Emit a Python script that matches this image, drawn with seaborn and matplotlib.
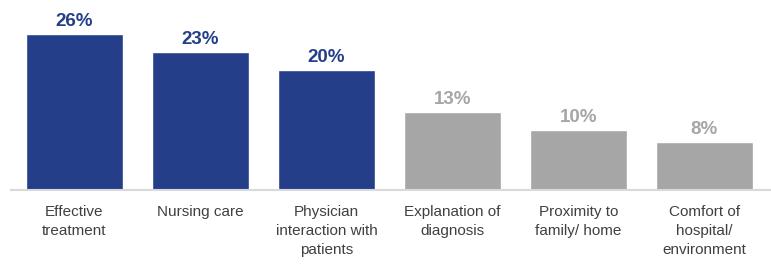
import seaborn as sns
import pandas as pd
import matplotlib.pyplot as plt

categories = [
    "Effective\ntreatment",
    "Nursing care",
    "Physician\ninteraction with\npatients",
    "Explanation of\ndiagnosis",
    "Proximity to\nfamily/ home",
    "Comfort of\nhospital/\nenvironment",
]
values = [26, 23, 20, 13, 10, 8]
highlight = [True, True, True, False, False, False]

BLUE = "#243E8A"
GREY = "#A6A6A6"

df = pd.DataFrame({"cat": categories, "value": values})
colors = [BLUE if h else GREY for h in highlight]

sns.set_theme(style="white")
plt.rcParams["font.family"] = ["Liberation Sans", "DejaVu Sans"]

fig = plt.figure(figsize=(7.71, 2.66), dpi=100)
ax = fig.add_axes([11 / 771, 76 / 266, 1 - 11 / 771, 180 / 266])

sns.barplot(data=df, x="cat", y="value", hue="cat", palette=colors,
            saturation=1, width=0.77, legend=False, ax=ax)

# value labels on top of bars, coloured like the bar
for container, c in zip(ax.containers, colors):
    ax.bar_label(container, labels=[f"{v:.0f}%" for v in container.datavalues],
                 padding=3, color=c, fontsize=13.5, fontweight="bold")

ax.set_xlim(-0.504, 5.53)
ax.set_ylim(0, 30)
ax.set_yticks([])
ax.set_xlabel("")
ax.set_ylabel("")
for side in ["top", "right", "left"]:
    ax.spines[side].set_visible(False)
ax.spines["bottom"].set_color("#D9D9D9")
ax.spines["bottom"].set_linewidth(1.5)
ax.tick_params(axis="x", length=0, pad=11, labelsize=11, labelcolor="#404040")
for lbl in ax.get_xticklabels():
    lbl.set_linespacing(1.45)
    lbl.set_verticalalignment("top")

fig.savefig("out.png", dpi=100)
